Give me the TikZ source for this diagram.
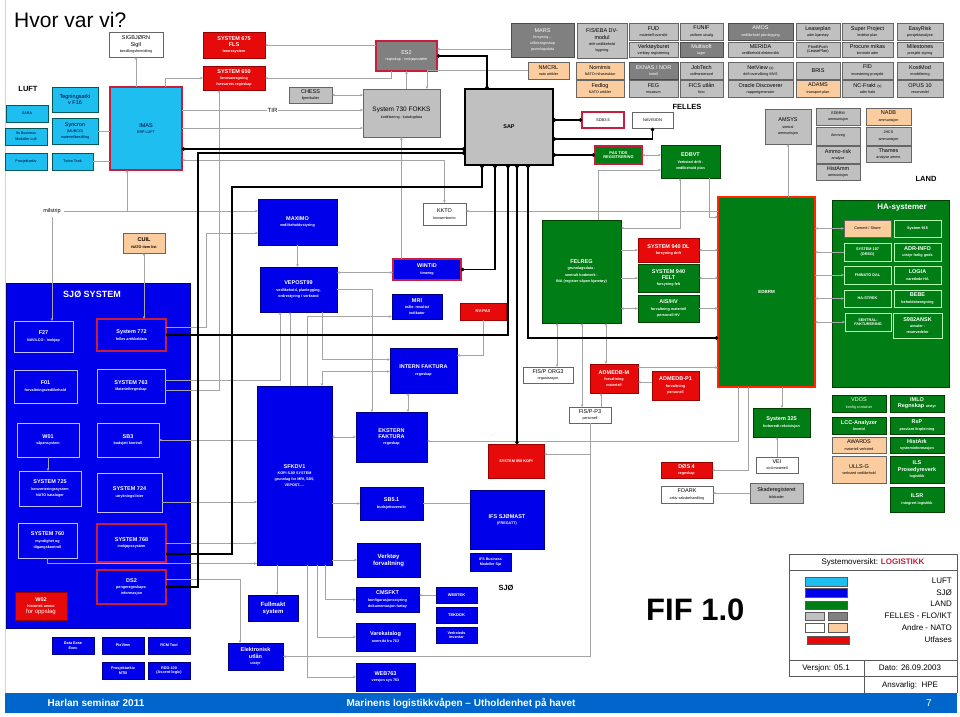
\documentclass[tikz,border=0pt]{standalone}
\usepackage{fontspec}
\setmainfont{Liberation Sans}
\usetikzlibrary{arrows.meta}
\definecolor{lgrey}{RGB}{192,192,192}
\definecolor{dgrey}{RGB}{128,128,128}
\definecolor{peach}{RGB}{250,204,158}
\definecolor{luftcyan}{RGB}{30,190,240}
\definecolor{sjoblue}{RGB}{0,0,235}
\definecolor{landgreen}{RGB}{0,125,20}
\definecolor{utred}{RGB}{230,10,10}
\definecolor{rimred}{RGB}{200,30,60}
\definecolor{congrey}{RGB}{165,165,165}
\definecolor{footblue}{RGB}{0,102,204}
\newcommand{\subf}{\fontsize{3.7}{4.3}\selectfont}
\newcommand{\mainf}{\fontsize{5.5}{6.2}\selectfont}
\newcommand{\legf}{\fontsize{8}{9}\selectfont}
% box given by its corners in picture pixels
\newcommand{\sysnode}[7]{\node[#2, minimum width={(#5-#3)*1pt}, minimum height={(#6-#4)*1pt}] (#1) at ({(#3+#5)/2},{(#4+#6)/2}) {#7};}
\begin{document}
\begin{tikzpicture}[x=1pt, y=-1pt,
    >={Stealth[length=3pt,width=2.6pt]},
    sys/.style={draw, inner sep=0.4pt, outer sep=0pt, align=center, line width=0.5pt, font=\mainf},
    lg/.style={sys, fill=lgrey, draw=gray!80!black},
    dg/.style={sys, fill=dgrey, draw=gray!60!black, text=white},
    pe/.style={sys, fill=peach, draw=gray!80!black},
    wh/.style={sys, fill=white, draw=gray!80!black},
    cy/.style={sys, fill=luftcyan, draw=teal!70!black, text=black!80!blue},
    bl/.style={sys, fill=sjoblue, draw=blue!50!black, text=white, font=\mainf\bfseries},
    bli/.style={bl, draw=blue!25!white},
    gr/.style={sys, fill=landgreen, draw=green!25!black, text=white, font=\mainf\bfseries},
    gri/.style={gr, draw=green!30!white},
    rd/.style={sys, fill=utred, draw=red!60!black, text=white, font=\mainf\bfseries},
    rim/.style={draw=rimred, line width=1.1pt},
    gcon/.style={draw=congrey, line width=0.7pt},
    bcon/.style={draw=black, line width=1.3pt, {Circle[length=3.4pt]}-{Circle[length=3.4pt]}},
    lbl/.style={font=\fontsize{7.5}{8}\selectfont\bfseries}]
\useasboundingbox (0,0) rectangle (960,716);
\fill[white] (0,0) rectangle (960,716);
\draw[gray!35] (5,0) -- (5,693);
\node[anchor=base west, inner sep=0, font=\fontsize{21}{24}\selectfont] (title) at (14,27) {Hvor var vi?};

% LUFT
\node[lbl] (luft) at (28,89) {LUFT};
\sysnode{sigbjorn}{wh}{109}{32}{163}{57}{SIGBJØRN\\SigII\\\subf bestillingsformidling}
\sysnode{sara}{cy}{6}{105}{48}{122}{\subf SARA}
\sysnode{ifsluft}{cy}{5}{128}{47}{145}{\subf Ifs Business\\\subf Modeller Luft}
\sysnode{prosjluft}{cy}{5}{153}{47}{170}{\subf Prosjektarkiv}
\sysnode{tegn}{cy}{52}{87}{98}{112}{Tegningsarki\\v F16}
\sysnode{syncron}{cy}{52}{118}{98}{144}{Syncron\\\subf (MUBCO)\\\subf materiellbestilling}
\sysnode{turbo}{cy}{52}{153}{93}{170}{\subf Turbo Tank}
\sysnode{imas}{cy, rim}{110}{87}{182}{170}{IMAS\\\subf ERP LUFT}

\sysnode{sys675}{rd}{203}{32}{265}{58}{SYSTEM 675\\FLS\\\subf lønnssystem}
\sysnode{sys650}{rd}{203}{66}{265}{90}{SYSTEM 650\\\subf lønnsavregning\\\subf forsvarets regnskap}
\sysnode{es2}{dg, rim}{376}{41}{437}{71}{ES2\\\subf regnskap - innkjøpsstøtte}
\sysnode{chess}{lg}{289}{87}{332}{103}{CHESS\\\subf kjemikalier}
\sysnode{fokks}{lg, font=\fontsize{6.5}{7.5}\selectfont}{363}{89}{440}{137}{System 730 FOKKS\\\subf kodifisering - katalogdata}
\sysnode{sap}{lg, draw=black, line width=1.3pt, font=\mainf\bfseries}{465}{89}{553}{165}{SAP}

% FELLES
\sysnode{mars}{dg}{511}{23}{574}{57}{MARS\\\subf forsyning –\\\subf utlånsregnskap\\\subf grunnlagsdata}
\sysnode{nmcrl}{pe}{528}{62}{569}{79}{NMCRL\\\subf nato artikler}
\sysnode{fiseba}{lg}{577}{23}{627}{58}{FIS/EBA DV-\\modul\\\subf drift vedlikehold\\\subf bygning}
\sysnode{nomimis}{pe}{576}{62}{624}{79}{Nomimis\\\subf NATO infrastruktur}
\sysnode{fedlog}{pe}{576}{80}{624}{97}{Fedlog\\\subf NATO artikler}
\sysnode{fud}{lg}{629}{23}{678}{40}{FUD\\\subf materiell oversikt}
\sysnode{verkt}{lg}{629}{42}{678}{57}{Verktøyburet\\\subf verktøy registrering}
\sysnode{eknas}{dg}{629}{62}{678}{79}{EKNAS / NOR\\\subf hotell}
\sysnode{feg}{lg}{629}{80}{678}{97}{FEG\\\subf museum}
\sysnode{funif}{lg}{680}{23}{723}{40}{FUNIF\\\subf uniform utvalg}
\sysnode{multi}{dg}{680}{42}{723}{57}{Multisoft\\\subf lager}
\sysnode{jobtech}{lg}{680}{62}{723}{79}{JobTech\\\subf vollmesteravd}
\sysnode{fics}{lg}{680}{80}{723}{97}{FICS utlån\\\subf foto}
\sysnode{amos}{dg}{728}{23}{793}{40}{AMOS\\\subf vedlikehold planlegging}
\sysnode{merida}{lg}{728}{42}{793}{57}{MERIDA\\\subf vedlikehold elektronikk}
\sysnode{netview}{lg}{728}{62}{793}{79}{NetView {\subf(s)}\\\subf drift overvåking MVS}
\sysnode{oracle}{lg}{728}{80}{793}{97}{Oracle Discoverer\\\subf rapportgenerator}
\sysnode{lease}{lg}{796}{23}{840}{40}{Leaseplan\\\subf adm kjøretøy}
\sysnode{planb}{lg, font=\fontsize{4}{4.6}\selectfont}{796}{42}{840}{57}{PlanBPush\\(LeasePlan)}
\sysnode{bris}{lg}{796}{62}{840}{79}{BRIS}
\sysnode{adams}{pe}{796}{80}{840}{97}{ADAMS\\\subf transport plan}
\sysnode{super}{lg}{842}{23}{893}{40}{Super Project\\\subf ledelse plan}
\sysnode{procure}{lg}{842}{42}{893}{57}{Procure mikas\\\subf kontrakt adm}
\sysnode{fid}{lg}{842}{62}{893}{79}{FID\\\subf investering prosjekt}
\sysnode{ncfrakt}{lg}{842}{80}{893}{97}{NC-Frakt {\subf(s)}\\\subf adm frakt}
\sysnode{easy}{lg}{897}{23}{943}{40}{EasyRisk\\\subf prosjektanalyse}
\sysnode{miles}{lg}{897}{42}{943}{57}{Milestones\\\subf prosjekt styring}
\sysnode{kost}{lg}{897}{62}{943}{79}{KostMod\\\subf modellering}
\sysnode{opus}{lg}{897}{80}{943}{97}{OPUS 10\\\subf reservedel}
\node[lbl] (felles) at (687,107) {FELLES};
\sysnode{sdb35}{wh, rim, font=\fontsize{4}{4.6}\selectfont}{582}{112}{624}{128}{SDB3.5}
\sysnode{navision}{wh, font=\fontsize{4}{4.6}\selectfont}{632}{112}{673}{128}{NAVISION}
\sysnode{pastids}{gr, rim, font=\fontsize{4}{4.6}\selectfont\bfseries}{595}{146}{642}{164}{PAS TIDS\\REGISTRERING}
\sysnode{edbvt}{gr}{661}{145}{720}{178}{EDBVT\\\subf Verksted drift -\\\subf vedlikehold plan}
\sysnode{amsys}{lg}{765}{109}{811}{144}{AMSYS\\\subf sentral\\\subf ammunisjon}
\sysnode{edbrmam}{lg}{816}{108}{860}{125}{\subf EDBRM\\\subf ammunisjon}
\sysnode{ammreg}{lg}{816}{127}{860}{145}{\subf Ammreg}
\sysnode{ammorisk}{lg}{816}{146}{860}{163}{Ammo-risk\\\subf analyse}
\sysnode{histamm}{lg}{816}{164}{860}{180}{HistAmm\\\subf ammunisjon}
\sysnode{nadb}{pe}{866}{108}{911}{125}{NADB\\\subf ammunisjon}
\sysnode{jhcs}{lg}{866}{127}{911}{145}{\subf JHCS\\\subf ammunisjon}
\sysnode{thames}{lg}{866}{146}{911}{162}{Thames\\\subf analyse ammo}
\node[lbl] (land) at (926,179) {LAND};

% SJØ
\node[font=\mainf] (milstrip) at (52,211) {milstrip};
\sysnode{cuil}{pe, font=\mainf\bfseries}{123}{233}{165}{253}{CUIL\\\subf NATO item list}
\sysnode{sjosys}{bl}{6}{283}{190}{628}{}
\node[text=white, font=\fontsize{9}{10}\selectfont\bfseries] (sjotitle) at (92,294) {SJØ SYSTEM};
\sysnode{f27}{bli}{14}{321}{73}{352}{F27\\\subf NAVILCO - Innkjøp}
\sysnode{sys772}{bli, rim}{97}{319}{166}{351}{System 772\\\subf felles artikkeldata}
\sysnode{f01}{bli}{14}{370}{77}{403}{F01\\\subf forvaltningsvedlikehold}
\sysnode{sys763}{bli}{97}{369}{165}{403}{SYSTEM 763\\\subf Materiellregnskap}
\sysnode{w01}{bli}{17}{423}{79}{457}{W01\\\subf våpensystem}
\sysnode{sb3}{bli}{97}{423}{159}{457}{SB3\\\subf budsjett kontroll}
\sysnode{sys725}{bli}{19}{471}{81}{506}{SYSTEM 725\\\subf konverteringssystem\\\subf NATO kataloger}
\sysnode{sys724}{bli}{97}{473}{162}{512}{SYSTEM 724\\\subf utrykningslister}
\sysnode{sys760}{bli}{18}{523}{77}{558}{SYSTEM 760\\\subf myndighet og\\\subf tilgangskontroll}
\sysnode{sys768}{bli, rim}{97}{524}{166}{562}{SYSTEM 768\\\subf innkjøpssystem}
\sysnode{ds2}{bli, rim}{97}{570}{166}{604}{DS2\\\subf pengeregnskaps-\\\subf informasjon}
\sysnode{w02}{rd}{15}{592}{67}{620}{W02\\\subf historisk ammo\\{\fontsize{6}{7}\selectfont\mdseries for oppslag}}
\sysnode{dataease}{bl, font=\fontsize{3.8}{4.4}\selectfont\bfseries}{52}{637}{94}{654}{Data Ease\\Exec}
\sysnode{pixview}{bl, font=\fontsize{3.8}{4.4}\selectfont\bfseries}{102}{637}{144}{654}{PixView}
\sysnode{rcm}{bl, font=\fontsize{3.8}{4.4}\selectfont\bfseries}{148}{637}{190}{654}{RCM Tool}
\sysnode{prosjmtb}{bl, font=\fontsize{3.8}{4.4}\selectfont\bfseries}{102}{662}{144}{679}{Prosjektarkiv\\MTB}
\sysnode{rdd}{bl, font=\fontsize{3.8}{4.4}\selectfont\bfseries}{148}{662}{190}{679}{RDD-100\\(Ascent logic)}

\sysnode{maximo}{bl}{258}{199}{337}{245}{MAXIMO\\\subf vedlikeholdsstyring}
\sysnode{kkto}{wh}{423}{203}{466}{225}{KKTO\\\subf konsernkonto}
\sysnode{vepost}{bl}{260}{267}{337}{312}{VEPOST99\\\subf vedlikehold, planlegging,\\\subf ordrestyring i verksted}
\sysnode{wintid}{bl, rim}{393}{259}{461}{280}{WINTID\\\subf timereg}
\sysnode{mri}{bl}{392}{294}{442}{319}{MRI\\\subf måle- resultat\\\subf indikator}
\sysnode{nvpas}{rd, font=\fontsize{4}{4.6}\selectfont\bfseries}{460}{303}{506}{320}{NV-PAS}
\sysnode{intern}{bl}{390}{348}{457}{393}{INTERN FAKTURA\\\subf regnskap}
\sysnode{sfkdv1}{bl}{257}{386}{332}{565}{SFKDV1\\\subf KOPI SJØ SYSTEM\\\subf grunnlag for MRI, SB5,\\\subf VEPOST.....}
\sysnode{ekstern}{bl}{356}{412}{427}{462}{EKSTERN\\FAKTURA\\\subf regnskap}
\sysnode{sb51}{bl}{360}{487}{423}{520}{SB5.1\\\subf budsjettoversikt}
\sysnode{verktoy}{bl, font=\fontsize{6}{7}\selectfont\bfseries}{357}{543}{420}{577}{Verktøy\\forvaltning}
\sysnode{fullmakt}{bl, font=\fontsize{6}{7}\selectfont\bfseries}{248}{595}{298}{621}{Fullmakt\\system}
\sysnode{cmsfkt}{bl}{356}{587}{419}{612}{CMSFKT\\\subf konfigurasjonsstyring\\\subf dokumentasjon fartøy}
\sysnode{webtek}{bl, font=\fontsize{4}{4.6}\selectfont\bfseries}{436}{587}{477}{603}{WEBTEK}
\sysnode{tekdok}{bl, font=\fontsize{4}{4.6}\selectfont\bfseries}{436}{607}{477}{623}{TEKDOK}
\sysnode{verksinv}{bl, font=\fontsize{3.8}{4.4}\selectfont\bfseries}{436}{627}{477}{643}{Verksteds\\inventar}
\sysnode{varekat}{bl}{356}{623}{415}{651}{Varekatalog\\\subf oversikt fra 763}
\sysnode{elutlan}{bl}{228}{643}{283}{670}{Elektronisk\\utlån\\\subf utstyr}
\sysnode{web763}{bl}{356}{663}{415}{691}{WEB763\\\subf versjon sys 763}
\sysnode{sys850}{rd, font=\fontsize{3.8}{4.4}\selectfont\bfseries}{488}{444}{544}{478}{SYSTEM 850 KOPI}
\sysnode{ifssjo}{bl}{470}{490}{544}{549}{IFS SJØMAST\\\subf (FREGATT)}
\sysnode{ifsbm}{bl, font=\fontsize{3.6}{4.2}\selectfont\bfseries}{470}{553}{511}{571}{IFS Business\\Modeller Sjø}
\node[lbl] (sjo) at (506,588) {SJØ};

% LAND
\sysnode{felreg}{gr}{542}{220}{621}{323}{FELREG\\\subf grunnlagsdata -\\\subf sentralt kodeverk -\\\subf INA (register våpen kjøretøy)}
\sysnode{sys940dl}{rd}{638}{238}{699}{262}{SYSTEM 940 DL\\\subf forsyning drift}
\sysnode{sys940f}{gr}{638}{264}{699}{292}{SYSTEM 940\\FELT\\\subf forsyning felt}
\sysnode{aishv}{gr}{638}{295}{699}{322}{AIS/HV\\\subf forvaltning materiell\\\subf personell HV}
\sysnode{edbrm}{gr, draw=red!70!orange, line width=1.1pt, font=\fontsize{4.5}{5}\selectfont\bfseries}{718}{197}{815}{387}{EDBRM}
\sysnode{hasys}{gr}{832}{200}{949}{387}{}
\node[text=white, font=\fontsize{8}{9}\selectfont\bfseries] (hatitle) at (902,208) {HA-systemer};
\sysnode{commit}{pe, font=\fontsize{3.8}{4.4}\selectfont}{844}{220}{891}{237}{Commit / Share}
\sysnode{sys915}{gri, font=\fontsize{3.8}{4.4}\selectfont\bfseries}{894}{220}{941}{237}{System 915}
\sysnode{sys107}{gri, font=\fontsize{3.8}{4.4}\selectfont\bfseries}{844}{243}{891}{261}{SYSTEM 107\\(OREG)}
\sysnode{adrinfo}{gri}{894}{243}{941}{261}{ADR-INFO\\\subf utstyr farlig gods}
\sysnode{fninato}{gri, font=\fontsize{3.8}{4.4}\selectfont\bfseries}{844}{266}{891}{284}{FNINATO DAL}
\sysnode{logia}{gri}{894}{266}{941}{284}{LOGIA\\\subf varetlede HA}
\sysnode{hastrek}{gri, font=\fontsize{3.8}{4.4}\selectfont\bfseries}{844}{290}{891}{307}{HA-STREK}
\sysnode{bebe}{gri}{894}{290}{941}{307}{BEBE\\\subf beholdsberegning}
\sysnode{sentral}{gri, font=\fontsize{3.8}{4.4}\selectfont\bfseries}{845}{313}{891}{331}{SENTRAL-\\FAKTURERING}
\sysnode{s982}{gri}{893}{313}{942}{338}{S982ANSK\\\subf avvaler -\\\subf reservedeler}
\sysnode{vdos}{gr, font=\mainf}{832}{395}{886}{412}{VDOS\\\subf konfig container}
\sysnode{imlo}{gr}{890}{395}{944}{412}{IMLO\\Regnskap {\subf utstyr}}
\sysnode{lcc}{gr}{832}{417}{886}{434}{LCC-Analyzer\\\subf levetid}
\sysnode{rsp}{gr}{890}{417}{944}{434}{RsP\\\subf proviant forpleining}
\sysnode{awards}{pe}{832}{437}{886}{453}{AWARDS\\\subf materiell verksted}
\sysnode{histark}{gr}{890}{437}{944}{453}{HistArk\\\subf systeminformasjon}
\sysnode{ullsg}{pe}{832}{456}{886}{483}{ULLS-G\\\subf verksted vedlikehold}
\sysnode{ils}{gr}{890}{456}{944}{483}{ILS\\Prosedyreverk\\\subf logistikk}
\sysnode{ilsr}{gr}{890}{487}{944}{512}{ILSR\\\subf integrert logistikk}
\sysnode{sys325}{gr}{753}{408}{810}{437}{System 325\\\subf forberedt rekvisisjon}
\sysnode{vei}{wh}{756}{457}{798}{473}{VEI\\\subf sivil materiell}
\sysnode{skade}{lg}{750}{483}{803}{503}{Skaderegisteret\\\subf bilskader}
\sysnode{foark}{wh}{661}{486}{713}{503}{FOARK\\\subf arkiv saksbehandling}
\sysnode{dos4}{rd}{661}{462}{712}{478}{DØS 4\\\subf regnskap}
\sysnode{fisorg3}{wh}{523}{367}{573}{383}{FIS/P ORG3\\\subf organisasjon}
\sysnode{admedbm}{rd}{590}{364}{638}{393}{ADMEDB-M\\\subf forvaltning\\\subf materiell}
\sysnode{admedbp1}{rd}{652}{371}{699}{400}{ADMEDB-P1\\\subf forvaltning\\\subf personell}
\sysnode{fisp3}{wh}{569}{407}{611}{423}{FIS/P-P3\\\subf personell}

% grey connectors
\draw[gcon,->] (imas.north -| sigbjorn) -- (sigbjorn.south);
\draw[gcon,->] ([xshift=-17pt]imas.north east) |- (sys650.west);
\draw[gcon,->] (es2.west |- sys675.east) -- (sys675.east);
\draw[gcon,->] ([xshift=15pt]es2.south west) |- (sys650.east);
\draw[gcon,->] (fokks.north -| es2.south) -- (es2.south);
\draw[gcon,<-] ([yshift=7pt]es2.east) -- ([yshift=7pt]es2.east -| mars.west);
\draw[gcon,->] (nmcrl.west) -| ([xshift=-13pt]fokks.north east);
\draw[gcon,<->] (chess.east) -- (chess.east -| fokks.west);
\draw[gcon,->] ([yshift=-23pt]imas.north east) -- ([yshift=-21pt]fokks.north west)
    node[pos=0.5, fill=white, inner sep=1pt, font=\fontsize{6}{7}\selectfont] (tir) {TIR};
\draw[gcon,->] ([yshift=-41pt]imas.north east) -- ([yshift=-39pt]fokks.north west);
\draw[gcon] (syncron.east) -- (syncron.east -| imas.west);
\draw[gcon] (turbo.east) -- (turbo.east -| imas.west);
\draw[gcon,->] (milstrip.east) -- (milstrip.east -| maximo.west);
\draw[gcon,->] ([xshift=17pt]imas.south west |- milstrip.east) -- ([xshift=17pt]imas.south west);
\draw[gcon,->] (milstrip.south) -- (milstrip.south |- f27.north);
\draw[gcon,<->] (cuil.south) -- (cuil.south |- sys772.north);
\draw[gcon,<->] ([yshift=-31.5pt]imas.east) -| (kkto.north);
\draw[gcon,->] ([yshift=-14pt]edbrm.north west) -- ([yshift=-14pt]edbrm.north west -| kkto.east);
\draw[gcon,->] ([yshift=8pt]sys772.east) -- ++(40,0) |- ([yshift=-11pt]maximo.west);
\draw[gcon,->] ([yshift=-4pt]sys763.east) -| ([xshift=16pt]sys650.south west);
\draw[gcon,->] ([yshift=6pt]sys763.east) -| ([xshift=20pt]vepost.south west);
\draw[gcon,->] (sfkdv1.west |- sb3.east) -- (sb3.east);
\draw[gcon,->] ([yshift=-9.5pt]sys724.east) -- ([yshift=-9.5pt]sys724.east -| sfkdv1.west);
\draw[gcon,->] (sys768.east) -- (sys768.east -| sfkdv1.west);
\draw[gcon,->] (sys760.south) |- ([yshift=1.5pt]sfkdv1.south west);
\draw[gcon,->] ([yshift=8pt]ds2.east) -| ([xshift=12pt]elutlan.north west);
\draw[gcon,->] (w01.south) -- (w01.south |- sys725.north);
\draw[gcon,<->] ([yshift=-3pt]wintid.west) -- ([yshift=-3pt]wintid.west -| vepost.east);
\draw[gcon,->] (vepost.east) -| ([xshift=16pt]ekstern.north west);
\draw[gcon,->] ([xshift=50pt]sfkdv1.north west) |- ([yshift=-10pt]mri.west);
\draw[gcon,->] (maximo.south) -- (maximo.south |- vepost.north);
\draw[gcon,->] ([xshift=33pt]sfkdv1.north west) -- ([xshift=33pt]sfkdv1.north west |- vepost.south);
\draw[gcon,->] ([xshift=-15pt]vepost.south east) |- ([yshift=11pt]intern.west);
\draw[gcon,<->] ([yshift=-1pt]intern.west) -| ([xshift=65pt]sfkdv1.north west);
\draw[gcon,<->] (sfkdv1.east |- ekstern.west) -- (ekstern.west);
\draw[gcon,<->] ([xshift=18pt]intern.south west) -- ([xshift=18pt]intern.south west |- ekstern.north);
\draw[gcon,->] (nvpas.south) |- ([yshift=15pt]intern.east);
\draw[gcon,->] (wintid.north -| fokks.south) -- (fokks.south);
\draw[gcon,->] ([xshift=20pt]edbrm.south west) |- ([yshift=-4pt]ekstern.east);
\draw[gcon,->] ([xshift=30pt]edbrm.south west) |- (dos4.east);
\draw[gcon,->] ([xshift=64pt]edbrm.south west) -- ([xshift=64pt]edbrm.south west |- sys325.north);
\draw[gcon,->] (vei.north) -- (vei.north |- sys325.south);
\draw[gcon,->] (skade.west) -- (skade.west -| foark.east);
\draw[gcon,->] (fisp3.south) |- ([yshift=7pt]sys850.east);
\draw[gcon,->] (fisp3.south) |- (elutlan.east);
\draw[gcon,<->] ([xshift=34pt]fisorg3.north west) -- ([xshift=34pt]fisorg3.north west |- felreg.south);
\draw[gcon,<->] ([xshift=13pt]fisp3.north west) -- ([xshift=13pt]fisp3.north west |- felreg.south);
\draw[gcon,<->] ([xshift=16pt]admedbm.north west) -- ([xshift=16pt]admedbm.north west |- felreg.south);
\draw[gcon,->] ([xshift=32pt]fisp3.north west) -- ([xshift=32pt]fisp3.north west |- admedbm.south);
\draw[gcon,->] ([yshift=3.5pt]admedbp1.west) -- ([yshift=3.5pt]admedbp1.west -| admedbm.east);
\draw[gcon,->] ([yshift=11pt]admedbm.east) -- ([yshift=11pt]admedbm.east -| edbrm.west);
\draw[gcon,->] (felreg.east |- sys940dl.west) -- (sys940dl.west);
\draw[gcon,->] (felreg.east |- sys940f.west) -- (sys940f.west);
\draw[gcon,<->] (felreg.east |- aishv.west) -- (aishv.west);
\draw[gcon,<->] (sys940dl.east) -- (sys940dl.east -| edbrm.west);
\draw[gcon,<->] (sys940f.east) -- (sys940f.east -| edbrm.west);
\draw[gcon,->] (aishv.east) -- (aishv.east -| edbrm.west);
\draw[gcon,<->] (pastids.east) -- (pastids.east -| edbvt.west);
\draw[gcon,->] ([xshift=56pt]felreg.north west) |- ([yshift=-8.5pt]edbvt.west);
\draw[gcon,<->] ([xshift=19pt]edbvt.south west) |- ([yshift=-8pt]felreg.north east);
\draw[gcon,->] ([xshift=48pt]edbvt.south west) |- ([yshift=-20pt]edbrm.north west);
\draw[gcon,->] (amsys.south |- edbrm.north) -- (amsys.south);
\draw[gcon,<->] (commit.west -| edbrm.east) -- (commit.west);
\draw[gcon,<-] (sys107.west -| edbrm.east) -- (sys107.west);
\draw[gcon,->] (fninato.west -| edbrm.east) -- (fninato.west);
\draw[gcon,<->] (hastrek.west -| edbrm.east) -- (hastrek.west);
\draw[gcon,<->] (sentral.west -| edbrm.east) -- (sentral.west);
\draw[gcon,->] (sfkdv1.east |- sb51.west) -- (sb51.west);
\draw[gcon] (sb51.east) -- (sb51.east -| ifssjo.west);
\draw[gcon,->] (sfkdv1.east |- verktoy.west) -- (verktoy.west);
\draw[gcon,->] ([xshift=-7pt]sfkdv1.south east) |- (cmsfkt.west);
\draw[gcon,->] ([xshift=-15pt]sfkdv1.south east) |- (varekat.west);
\draw[gcon,->] ([xshift=-25pt]sfkdv1.south east) |- (web763.west);
\draw[gcon,->] ([xshift=20pt]sfkdv1.south west) -- ([xshift=20pt]sfkdv1.south west |- fullmakt.north);
\draw[gcon,->] (webtek.west) -- (webtek.west -| cmsfkt.east);

% black SAP links
\draw[bcon] ([yshift=-20.5pt]imas.east) -- ([yshift=-20.5pt]imas.east -| sap.west);
\draw[bcon] (ds2.east) -- ++(32,0) |- ([yshift=-26pt]sap.west);
\draw[bcon] ([yshift=-11pt]sys768.east) -- ++(66,0) -- ++(0,-367) -| ([xshift=17pt]sap.south west);
\draw[bcon] (sys772.east) -| ([xshift=43pt]sap.south west);
\draw[bcon] ([xshift=52pt]sap.south west) -- ([xshift=52pt]sap.south west |- sys850.north);
\draw[bcon] (wintid.east) -| ([xshift=30pt]sap.south west);
\draw[bcon] ([xshift=63pt]sap.south west) |- ([yshift=-46pt]edbrm.west);
\draw[bcon] (sap.east |- sdb35.west) -- (sdb35.west);
\draw[bcon] ([yshift=-50pt]sap.north east) -| (navision.south);
\draw[bcon] (sap.east |- pastids.west) -- (pastids.west);
\draw[bcon] (es2.east) -| ([xshift=22pt]sap.north west);

\node[anchor=base west, inner sep=0, font=\fontsize{31}{31}\selectfont\bfseries] (fif) at (646,620) {FIF 1.0};

% legend
\draw[gray!70!black, line width=0.6pt] (789,554) rectangle (957,676);
\draw[gray!70!black, line width=0.6pt] (789,570) -- (957,570) (789,660) -- (957,660)
    (864,660) -- (864,693) (957,676) -- (957,693);
\node[font=\legf] (lgtitle) at (873,562) {Systemoversikt: \textcolor{rimred}{\bfseries LOGISTIKK}};
\filldraw[fill=luftcyan, draw=gray!70!black] (805,577) rectangle (847,586);
\filldraw[fill=sjoblue, draw=gray!70!black] (805,588) rectangle (847,597);
\filldraw[fill=landgreen, draw=gray!70!black] (805,601) rectangle (847,609);
\filldraw[fill=lgrey, draw=gray!70!black] (805,612) rectangle (824,620);
\filldraw[fill=dgrey, draw=gray!70!black] (828,612) rectangle (847,620);
\filldraw[fill=white, draw=gray!70!black] (805,623) rectangle (824,632);
\filldraw[fill=peach, draw=gray!70!black] (828,623) rectangle (847,632);
\filldraw[fill=utred, draw=gray!70!black] (807,636) rectangle (849,644);
\node[anchor=base east, inner sep=0, font=\legf] (lgluft) at (952,583) {LUFT};
\node[anchor=base east, inner sep=0, font=\legf] (lgsjo) at (952,595) {SJØ};
\node[anchor=base east, inner sep=0, font=\legf] (lgland) at (952,606) {LAND};
\node[anchor=base east, inner sep=0, font=\legf] (lgfelles) at (952,618) {FELLES - FLO/IKT};
\node[anchor=base east, inner sep=0, font=\legf] (lgandre) at (952,630) {Andre - NATO};
\node[anchor=base east, inner sep=0, font=\legf] (lgutf) at (952,642) {Utfases};
\node[font=\legf] (versjon) at (826,668) {Versjon: 05.1};
\node[font=\legf] (dato) at (910,668) {Dato: 26.09.2003};
\node[font=\legf] (ansvarlig) at (910,685) {Ansvarlig:~~HPE};

% footer
\fill[footblue] (5,693) rectangle (957,713);
\node[text=white, font=\fontsize{10}{11}\selectfont\bfseries] (fleft) at (96,703) {Harlan seminar 2011};
\node[text=white, font=\fontsize{10}{11}\selectfont\bfseries] (fmid) at (461,703) {Marinens logistikkvåpen – Utholdenhet på havet};
\node[text=white, font=\fontsize{10}{11}\selectfont] (fpage) at (929,703) {7};
\end{tikzpicture}
\end{document}
